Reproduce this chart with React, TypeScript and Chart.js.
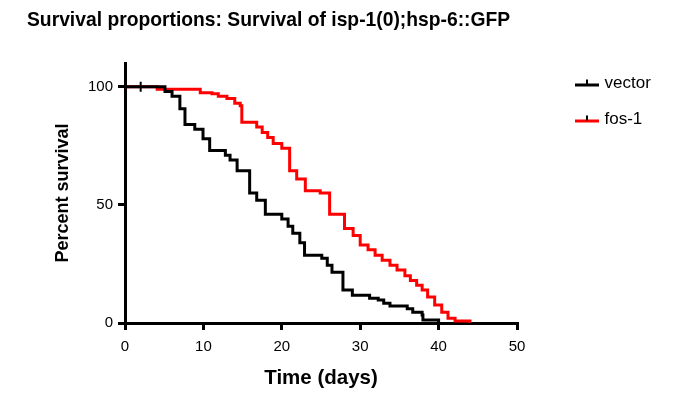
import React, { useEffect, useRef } from 'react';
import { Chart, registerables } from 'chart.js';

Chart.register(...registerables);

const chartTitle = 'Survival proportions: Survival of isp-1(0);hsp-6::GFP';
const xTitle = 'Time (days)';
const yTitle = 'Percent survival';
const seriesNames = ['vector', 'fos-1'];
const seriesColors = ['#000000', '#ff0000'];

const vectorDays = [0, 2, 5.1, 6.0, 7.0, 7.65, 8.9, 9.95, 10.8, 12.8, 13.4, 14.3, 15.9, 16.8, 17.9, 20.0, 20.8, 21.4, 22.3, 22.9, 25.1, 25.8, 26.4, 27.8, 29.0, 31.2, 32.3, 33.0, 33.8, 36.0, 36.7, 37.9, 38.0, 40.0];
const vectorSurvival = [100, 100, 98, 96, 90.7, 84, 82, 78, 73, 71, 69, 64.5, 55, 52, 46, 44, 41, 38, 34, 28.7, 27.4, 24.5, 21.5, 14, 11.8, 10.5, 9.7, 8.4, 7.2, 6, 4.6, 3.4, 1.3, 0];
const vectorCensorDays = [2];

const fosDays = [0, 4.1, 9.6, 11.1, 11.9, 13.0, 14.0, 14.7, 14.9, 16.8, 17.5, 18.2, 18.9, 20.0, 21.0, 21.9, 23.0, 24.9, 26.1, 28.0, 29.1, 30.0, 31.0, 31.9, 32.8, 33.8, 34.7, 35.7, 36.4, 37.2, 37.9, 38.6, 39.5, 40.4, 41.2, 42.1, 44.0];
const fosSurvival = [100, 99, 97.5, 97, 96, 95, 93, 92, 85, 83, 80.6, 78.5, 76, 74, 64.5, 61, 56, 55, 46, 40, 37, 33, 31, 28.7, 26.6, 24.5, 22.4, 20, 18, 16, 14, 11, 7.6, 4.6, 2, 0.8, 0];
const fosCensorDays: number[] = [];

const xTicks = [0, 10, 20, 30, 40, 50];
const yTicks = [0, 50, 100];

const FONT = "'Liberation Sans', Arial, Helvetica, sans-serif";

function makeMarker(color: string) {
  const c = document.createElement('canvas');
  c.width = 24;
  c.height = 10;
  const g = c.getContext('2d')!;
  g.fillStyle = color;
  g.fillRect(0, 5, 24, 3);
  g.fillStyle = '#000';
  g.fillRect(11, 1, 2, 5);
  return c;
}

function toPoints(days: number[], surv: number[]) {
  return days.map((d, i) => ({ x: d, y: surv[i] }));
}

export default function App() {
  const ref = useRef<HTMLCanvasElement | null>(null);
  useEffect(() => {
    document.body.style.margin = '0';
    const canvas = ref.current!;
    const markers = seriesColors.map(makeMarker);
    const censors = [vectorCensorDays, fosCensorDays];
    const dayArrays = [vectorDays, fosDays];
    const survArrays = [vectorSurvival, fosSurvival];

    const legendFix = {
      id: 'legendFix',
      beforeLayout(chart: any) {
        const lg = chart.legend;
        if (lg && !lg._patched) {
          const f = lg.fit;
          lg.fit = function () {
            f.call(this);
            this.width = 165;
          };
          lg._patched = true;
        }
      },
      afterLayout(chart: any) {
        const lg = chart.legend;
        if (lg) {
          lg.left += 42;
          lg.top += 56;
        }
      },
    };

    const chart = new Chart(canvas, {
      type: 'line',
      data: {
        datasets: seriesNames.map((name, k) => ({
          label: name,
          data: toPoints(dayArrays[k], survArrays[k]),
          borderColor: seriesColors[k],
          backgroundColor: seriesColors[k],
          borderWidth: 3,
          stepped: true,
          fill: false,
          pointStyle: 'line',
          rotation: 90,
          pointBorderWidth: 2,
          pointBorderColor: seriesColors[k],
          pointRadius: dayArrays[k].map((d) => (censors[k].includes(d) ? 5 : 0)),
        })),
      },
      options: {
        animation: false,
        responsive: false,
        events: [],
        layout: { padding: { left: 27, right: 0, top: 0, bottom: 0 } },
        plugins: {
          title: {
            display: true,
            text: chartTitle,
            align: 'start',
            color: '#000',
            font: { size: 19.3, weight: 'bold', family: FONT },
            padding: { top: 9, bottom: 31 },
          },
          legend: {
            position: 'right',
            align: 'start',
            labels: {
              usePointStyle: true,
              pointStyleWidth: 18,
              color: '#000',
              font: { size: 17, family: FONT },
              padding: 19,
              generateLabels: () =>
                seriesNames.map((name, k) => ({
                  text: name,
                  pointStyle: markers[k],
                  fillStyle: seriesColors[k],
                  strokeStyle: seriesColors[k],
                  lineWidth: 0,
                  hidden: false,
                  datasetIndex: k,
                  fontColor: '#000',
                })),
            },
          },
          tooltip: { enabled: false },
        },
        scales: {
          x: {
            type: 'linear',
            min: 0,
            max: 50,
            afterBuildTicks: (s: any) => {
              s.ticks = xTicks.map((v) => ({ value: v }));
            },
            afterFit: (s: any) => {
              s.height = 70;
            },
            border: { color: '#000', width: 3 },
            grid: { drawOnChartArea: false, color: '#000', lineWidth: 3, tickLength: 7 },
            ticks: { color: '#000', font: { size: 15, family: FONT }, padding: 8, maxRotation: 0 },
            title: {
              display: true,
              text: xTitle,
              color: '#000',
              font: { size: 20.5, weight: 'bold', family: FONT },
              padding: { top: 4, bottom: 2 },
            },
          },
          y: {
            type: 'linear',
            min: 0,
            max: 110,
            afterBuildTicks: (s: any) => {
              s.ticks = yTicks.map((v) => ({ value: v }));
            },
            afterFit: (s: any) => {
              s.width = 98;
            },
            border: { color: '#000', width: 3 },
            grid: { drawOnChartArea: false, color: '#000', lineWidth: 3, tickLength: 7 },
            ticks: { color: '#000', font: { size: 15, family: FONT }, padding: 5 },
            title: {
              display: true,
              text: yTitle,
              color: '#000',
              font: { size: 18, weight: 'bold', family: FONT },
              padding: { top: 25, bottom: 4 },
            },
          },
        },
      },
      plugins: [legendFix],
    } as any);
    return () => chart.destroy();
  }, []);

  return (
    <div style={{ width: 682, height: 393, position: 'relative' }}>
      <canvas ref={ref} width={682} height={393} />
    </div>
  );
}
